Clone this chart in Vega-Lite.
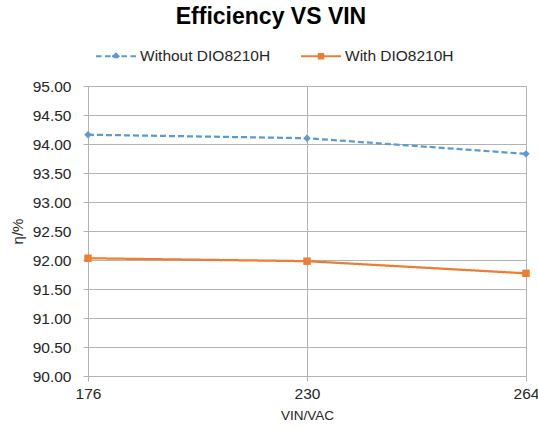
{
  "$schema": "https://vega.github.io/schema/vega-lite/v6.json",
  "width": 438,
  "height": 290,
  "autosize": {"type": "none"},
  "padding": {"left": 88, "top": 86, "right": 12, "bottom": 53},
  "background": "white",
  "title": {
    "text": "Efficiency VS VIN",
    "anchor": "middle",
    "frame": "group",
    "dx": -36,
    "offset": -12,
    "baseline": "alphabetic",
    "font": "Liberation Sans",
    "fontSize": 23,
    "fontWeight": "bold",
    "color": "#000000"
  },
  "config": {
    "view": {"stroke": null},
    "font": "Liberation Sans",
    "axis": {
      "labelFont": "Liberation Sans",
      "titleFont": "Liberation Sans",
      "labelFontSize": 15.5,
      "titleFontSize": 13.5,
      "titleFontWeight": "normal",
      "labelColor": "#262626",
      "titleColor": "#262626",
      "gridColor": "#B3B3B3",
      "gridWidth": 1,
      "domainColor": "#B3B3B3",
      "tickColor": "#B3B3B3",
      "tickSize": 5
    }
  },
  "data": {
    "values": [
      {"vin": "176", "series": "Without DIO8210H", "eff": 94.16},
      {"vin": "230", "series": "Without DIO8210H", "eff": 94.10},
      {"vin": "264", "series": "Without DIO8210H", "eff": 93.83},
      {"vin": "176", "series": "With DIO8210H", "eff": 92.03},
      {"vin": "230", "series": "With DIO8210H", "eff": 91.98},
      {"vin": "264", "series": "With DIO8210H", "eff": 91.77}
    ]
  },
  "encoding": {
    "x": {
      "field": "vin",
      "type": "ordinal",
      "sort": ["176", "230", "264"],
      "scale": {"type": "point", "padding": 0},
      "axis": {
        "title": "VIN/VAC",
        "labelAngle": 0,
        "grid": true,
        "labelPadding": 5,
        "titlePadding": 7
      }
    },
    "y": {
      "field": "eff",
      "type": "quantitative",
      "scale": {"domain": [90, 95], "nice": false, "zero": false},
      "axis": {
        "title": "η/%",
        "titleFontSize": 15,
        "values": [90, 90.5, 91, 91.5, 92, 92.5, 93, 93.5, 94, 94.5, 95],
        "format": ".2f",
        "labelPadding": 12,
        "titlePadding": 7
      }
    }
  },
  "layer": [
    {
      "mark": {"type": "line", "strokeWidth": 2.25},
      "encoding": {
        "strokeDash": {
          "field": "series",
          "type": "nominal",
          "scale": {"domain": ["Without DIO8210H", "With DIO8210H"], "range": [[6, 3], [1, 0]]},
          "legend": null
        },
        "color": {
          "field": "series",
          "type": "nominal",
          "sort": ["Without DIO8210H", "With DIO8210H"],
          "scale": {"domain": ["Without DIO8210H", "With DIO8210H"], "range": ["#5B9BD5", "#ED7D31"]},
          "legend": {
            "title": null,
            "orient": "none",
            "direction": "horizontal",
            "legendX": 7,
            "legendY": -51,
            "symbolSize": 1600,
            "symbolStrokeWidth": 2,
            "columnPadding": 26,
            "labelFont": "Liberation Sans",
            "labelFontSize": 15.5,
            "labelColor": "#262626",
            "labelOffset": 3,
            "encode": {
              "symbols": {
                "update": {
                  "shape": {"signal": "datum.value === 'Without DIO8210H' ? 'M-1,0L-0.72,0M-0.55,0L-0.27,0M0.27,0L0.55,0M0.72,0L1,0M-0.2,0L0.2,0M0,-0.13L0.13,0L0,0.13L-0.13,0Z' : 'M-1,0L1,0M-0.11,-0.11L0.11,-0.11L0.11,0.11L-0.11,0.11Z'"},
                  "fill": {"signal": "datum.value === 'Without DIO8210H' ? '#5B9BD5' : '#ED7D31'"},
                  "stroke": {"signal": "datum.value === 'Without DIO8210H' ? '#5B9BD5' : '#ED7D31'"},
                  "strokeDash": {"value": [1, 0]},
                  "fillOpacity": {"value": 1}
                }
              }
            }
          }
        }
      }
    },
    {
      "transform": [{"filter": "datum.series === 'Without DIO8210H'"}],
      "mark": {"type": "point", "filled": true, "opacity": 1, "size": 55, "shape": "diamond", "color": "#5B9BD5"}
    },
    {
      "transform": [{"filter": "datum.series === 'With DIO8210H'"}],
      "mark": {"type": "point", "filled": true, "opacity": 1, "size": 55, "shape": "square", "color": "#ED7D31"}
    }
  ]
}
